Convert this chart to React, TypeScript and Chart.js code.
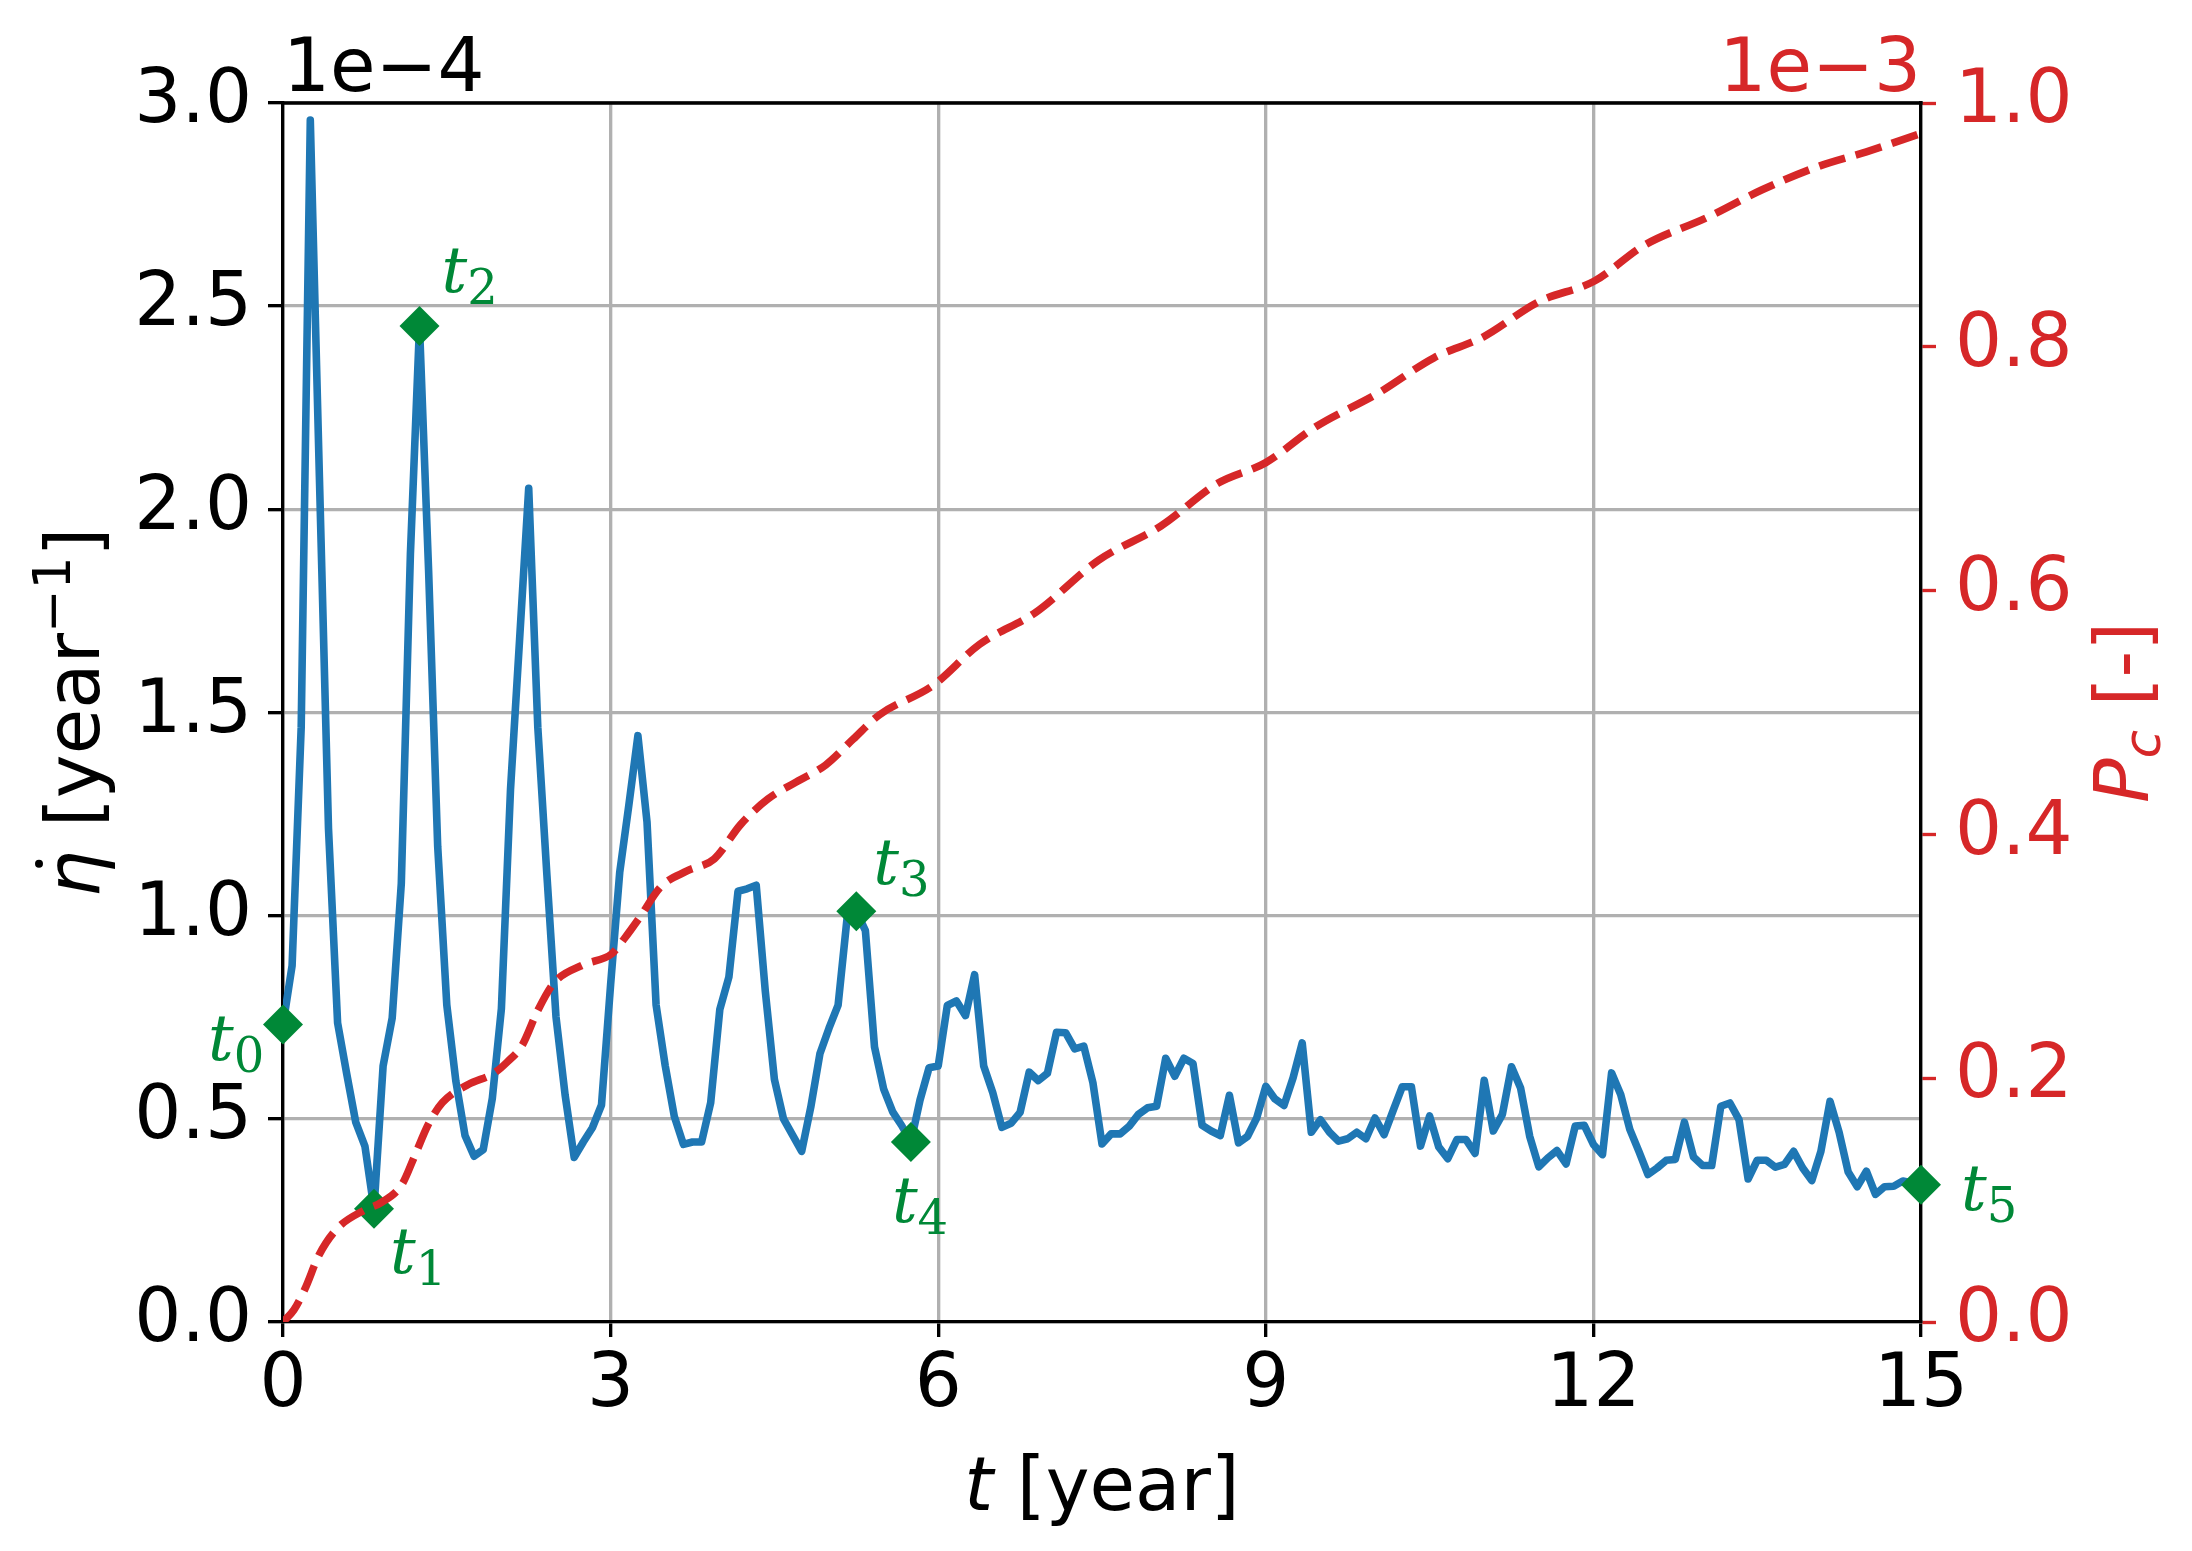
import { useEffect, useRef } from 'react';
import { Chart, registerables } from 'chart.js';
import type { Plugin, Scale } from 'chart.js';

Chart.register(...registerables);

// eta-dot, one sample per month from t = 0 to t = 15 years (units of 1e-4 / year)
const RATE = [
  0.732, 0.877, 1.464, 2.958, 2.08, 1.214, 0.736, 0.611, 0.491, 0.433, 0.279, 0.63,
  0.748, 1.079, 1.89, 2.451, 1.85, 1.17, 0.78, 0.592, 0.459, 0.408, 0.424, 0.55,
  0.771, 1.31, 1.68, 2.052, 1.464, 1.1, 0.751, 0.559, 0.405, 0.443, 0.478, 0.534,
  0.83, 1.106, 1.271, 1.443, 1.231, 0.78, 0.631, 0.506, 0.437, 0.443, 0.443, 0.54,
  0.769, 0.849, 1.06, 1.066, 1.075, 0.814, 0.597, 0.5, 0.46, 0.42, 0.529, 0.66,
  0.723, 0.78, 0.997, 1.011, 0.963, 0.677, 0.574, 0.517, 0.483, 0.443, 0.546, 0.626,
  0.63, 0.779, 0.79, 0.754, 0.855, 0.63, 0.564, 0.479, 0.489, 0.516, 0.615, 0.594,
  0.612, 0.713, 0.712, 0.672, 0.679, 0.589, 0.438, 0.463, 0.463, 0.482, 0.511, 0.527,
  0.531, 0.649, 0.605, 0.649, 0.636, 0.484, 0.47, 0.459, 0.558, 0.441, 0.457, 0.502,
  0.58, 0.549, 0.533, 0.601, 0.687, 0.467, 0.498, 0.467, 0.445, 0.451, 0.467, 0.451,
  0.502, 0.461, 0.521, 0.579, 0.579, 0.433, 0.507, 0.431, 0.402, 0.449, 0.449, 0.415,
  0.595, 0.47, 0.511, 0.628, 0.576, 0.457, 0.382, 0.404, 0.422, 0.389, 0.482, 0.484,
  0.437, 0.412, 0.613, 0.56, 0.474, 0.42, 0.363, 0.379, 0.398, 0.4, 0.492, 0.406,
  0.385, 0.385, 0.531, 0.539, 0.498, 0.352, 0.398, 0.398, 0.381, 0.388, 0.42, 0.379,
  0.348, 0.42, 0.543, 0.467, 0.369, 0.333, 0.371, 0.314, 0.333, 0.334, 0.347, 0.342, 0.338,
];
const SAMPLES_PER_YEAR = 12;

// cumulative P_c (units of 1e-3)
const PC_T = [
  0, 0.1, 0.2, 0.33, 0.5, 0.75, 0.9, 1.09, 1.2, 1.33, 1.46, 1.7, 1.93, 2.05, 2.19, 2.33,
  2.48, 2.75, 3.01, 3.13, 3.26, 3.46, 3.7, 3.95, 4.19, 4.44, 4.7, 4.97, 5.22, 5.46, 5.95,
  6.38, 6.89, 7.47, 8.04, 8.56, 9.0, 9.45, 10.03, 10.54, 10.99, 11.5, 12.01, 12.46, 13.04,
  13.55, 14.06, 14.5, 15,
];
const PC = [
  0, 0.01, 0.027, 0.055, 0.077, 0.092, 0.098, 0.113, 0.135, 0.162, 0.18, 0.195, 0.204, 0.213,
  0.227, 0.255, 0.278, 0.293, 0.302, 0.315, 0.331, 0.357, 0.37, 0.38, 0.408, 0.429, 0.443,
  0.457, 0.478, 0.498, 0.522, 0.556, 0.582, 0.625, 0.653, 0.688, 0.705, 0.734, 0.762, 0.791,
  0.808, 0.837, 0.854, 0.883, 0.906, 0.929, 0.948, 0.96, 0.975,
];

// marked instants t0..t5 (sample index into RATE)
const MARK_IDX = [0, 10, 15, 63, 69, 180];
const MARK_SUB = ['0', '1', '2', '3', '4', '5'];
// label placement relative to the marker, px (start x, baseline y)
const MARK_LABEL_OFFSET = [[-75, 35], [16, 64], [22, -34], [17, -27], [-19, 80], [40, 25]];

const BLUE = '#1f77b4';
const RED = '#d62728';
const GREEN = '#008837';
const GRID = '#b0b0b0';

const W = 2192;
const H = 1551;
const FS = 74;
const SANS = '"DejaVu Sans"';
const SERIF = '"DejaVu Serif"';
const PT = 300 / 72;
const LINE_W = 7.6;

type Run = { text: string; font: string; rise?: number };

function runsWidth(ctx: CanvasRenderingContext2D, runs: Run[]) {
  let w = 0;
  for (const r of runs) {
    ctx.font = r.font;
    w += ctx.measureText(r.text).width;
  }
  return w;
}

function drawRuns(ctx: CanvasRenderingContext2D, runs: Run[], x: number, y: number) {
  let cx = x;
  const starts: number[] = [];
  for (const r of runs) {
    ctx.font = r.font;
    starts.push(cx);
    ctx.fillText(r.text, cx, y - (r.rise ?? 0));
    cx += ctx.measureText(r.text).width;
  }
  return starts;
}

const overlay: Plugin<'line'> = {
  id: 'overlay',
  beforeDatasetsDraw(chart) {
    const { ctx, chartArea: a } = chart;
    ctx.save();
    ctx.strokeStyle = '#000';
    ctx.lineWidth = 0.8 * PT;
    ctx.beginPath();
    ctx.moveTo(a.left - 0.4 * PT, a.top);
    ctx.lineTo(a.right + 0.4 * PT, a.top);
    ctx.stroke();
    ctx.restore();
  },
  afterDraw(chart) {
    const { ctx, chartArea: a } = chart;
    const xs = chart.scales.x;
    const ys = chart.scales.y;
    const midY = (a.top + a.bottom) / 2;
    ctx.save();
    ctx.textBaseline = 'alphabetic';
    ctx.textAlign = 'left';

    // offset texts
    ctx.fillStyle = '#000';
    ctx.font = `${FS}px ${SANS}`;
    ctx.fillText('1e\u22124', a.left, a.top - 12);
    ctx.fillStyle = RED;
    ctx.textAlign = 'right';
    ctx.fillText('1e\u22123', a.right, a.top - 12);
    ctx.textAlign = 'left';

    // x title
    ctx.fillStyle = '#000';
    const xRuns: Run[] = [
      { text: 't', font: `italic ${FS}px ${SANS}` },
      { text: ' [year]', font: `${FS}px ${SANS}` },
    ];
    drawRuns(ctx, xRuns, (a.left + a.right) / 2 - runsWidth(ctx, xRuns) / 2, 1510);

    // left y title
    const yRuns: Run[] = [
      { text: '\u03b7', font: `italic ${FS}px ${SANS}` },
      { text: ' [year', font: `${FS}px ${SANS}` },
      { text: '\u22121', font: `52px ${SANS}`, rise: 29 },
      { text: ']', font: `${FS}px ${SANS}` },
    ];
    ctx.save();
    ctx.translate(99, midY);
    ctx.rotate(-Math.PI / 2);
    const yw = runsWidth(ctx, yRuns);
    ctx.font = `italic ${FS}px ${SANS}`;
    const etaW = ctx.measureText('\u03b7').width;
    const st = drawRuns(ctx, yRuns, -yw / 2, 0);
    ctx.beginPath();
    ctx.arc(st[0] + etaW * 0.72, -60, 4, 0, Math.PI * 2);
    ctx.fill();
    ctx.restore();

    // right y title
    ctx.fillStyle = RED;
    const rRuns: Run[] = [
      { text: 'P', font: `italic ${FS}px ${SANS}` },
      { text: 'c', font: `italic 52px ${SANS}`, rise: -12 },
      { text: ' [-]', font: `${FS}px ${SANS}` },
    ];
    ctx.save();
    ctx.translate(2148, midY);
    ctx.rotate(-Math.PI / 2);
    drawRuns(ctx, rRuns, -runsWidth(ctx, rRuns) / 2, 0);
    ctx.restore();

    // t_i labels
    ctx.fillStyle = GREEN;
    MARK_IDX.forEach((k, i) => {
      const px = xs.getPixelForValue(k / SAMPLES_PER_YEAR);
      const py = ys.getPixelForValue(RATE[k]);
      const [dx, dy] = MARK_LABEL_OFFSET[i];
      drawRuns(
        ctx,
        [
          { text: 't', font: `italic 64px ${SERIF}` },
          { text: MARK_SUB[i], font: `48px ${SERIF}`, rise: -12 },
        ],
        px + dx,
        py + dy,
      );
    });
    ctx.restore();
  },
};

export default function App() {
  const canvasRef = useRef<HTMLCanvasElement>(null);
  const chartRef = useRef<Chart | null>(null);

  useEffect(() => {
    document.body.style.margin = '0';
    if (!canvasRef.current) return;
    const ctx = canvasRef.current.getContext('2d');
    if (!ctx) return;

    const ratePts = RATE.map((v, i) => ({ x: i / SAMPLES_PER_YEAR, y: v }));
    const pcPts = PC_T.map((t, i) => ({ x: t, y: PC[i] }));
    const markPts = MARK_IDX.map((k) => ({ x: k / SAMPLES_PER_YEAR, y: RATE[k] }));
    const tickFont = { family: SANS, size: FS };

    if (chartRef.current) chartRef.current.destroy();
    chartRef.current = new Chart(ctx, {
      type: 'line',
      data: {
        datasets: [
          {
            data: pcPts,
            yAxisID: 'y1',
            borderColor: RED,
            borderWidth: LINE_W,
            borderDash: [27, 11],
            cubicInterpolationMode: 'monotone',
            pointRadius: 0,
            fill: false,
          },
          {
            data: markPts,
            yAxisID: 'y',
            showLine: false,
            pointStyle: 'rectRot',
            pointRadius: 20,
            pointBackgroundColor: GREEN,
            pointBorderColor: GREEN,
            pointBorderWidth: 0,
            clip: false,
          },
          {
            data: ratePts,
            yAxisID: 'y',
            borderColor: BLUE,
            borderWidth: LINE_W,
            borderJoinStyle: 'round',
            borderCapStyle: 'round',
            pointRadius: 0,
            tension: 0,
            fill: false,
          },
        ],
      },
      options: {
        responsive: false,
        devicePixelRatio: 1,
        animation: false,
        events: [],
        layout: { padding: { top: 103, left: 0, right: 0, bottom: 0 } },
        plugins: { legend: { display: false }, tooltip: { enabled: false } },
        scales: {
          x: {
            type: 'linear',
            min: 0,
            max: 15,
            afterFit: (s: Scale) => { s.height = H - 1322; },
            ticks: { stepSize: 3, color: '#000', font: tickFont, padding: 5, maxRotation: 0 },
            grid: { color: GRID, lineWidth: 0.8 * PT, tickColor: '#000', tickLength: 15, tickWidth: 0.8 * PT },
            border: { display: true, color: '#000', width: 0.8 * PT },
          },
          y: {
            type: 'linear',
            position: 'left',
            min: 0,
            max: 3,
            afterFit: (s: Scale) => { s.width = 283; },
            ticks: { stepSize: 0.5, color: '#000', font: tickFont, padding: 16, callback: (v) => Number(v).toFixed(1) },
            grid: { color: GRID, lineWidth: 0.8 * PT, tickColor: '#000', tickLength: 15, tickWidth: 0.8 * PT },
            border: { display: true, color: '#000', width: 0.8 * PT },
          },
          y1: {
            type: 'linear',
            position: 'right',
            min: 0,
            max: 1,
            afterFit: (s: Scale) => { s.width = W - 1921; },
            ticks: { stepSize: 0.2, color: RED, font: tickFont, padding: 19, callback: (v) => Number(v).toFixed(1) },
            grid: { drawOnChartArea: false, tickColor: RED, tickLength: 15, tickWidth: 0.8 * PT },
            border: { display: true, color: '#000', width: 0.8 * PT },
          },
        },
      },
      plugins: [overlay],
    });

    return () => {
      if (chartRef.current) {
        chartRef.current.destroy();
        chartRef.current = null;
      }
    };
  }, []);

  return (
    <div style={{ width: W, height: H, background: '#fff' }}>
      <canvas ref={canvasRef} width={W} height={H} style={{ display: 'block' }} />
    </div>
  );
}
